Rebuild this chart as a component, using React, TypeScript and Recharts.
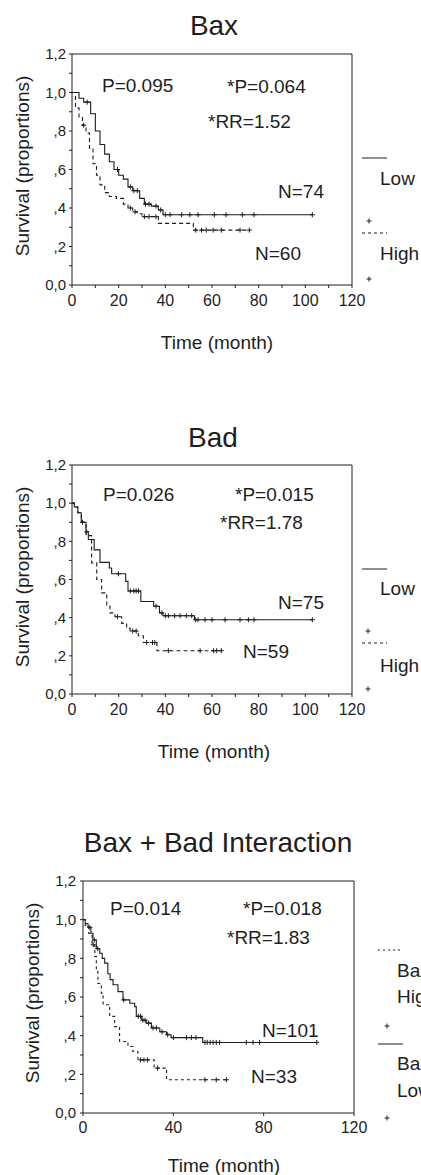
import React from 'react'
import { LineChart, Line, XAxis, YAxis, ReferenceLine } from 'recharts'

const FONT = '"Liberation Sans", Arial, Helvetica, sans-serif'
const INK = '#1e1e1e'

// Bax panel
const baxLowT = [0, 3, 5, 8, 10, 12, 14, 16, 18, 20, 22, 24, 26, 29, 31, 34, 37, 39]
const baxLowS = [1.0, 0.97, 0.95, 0.89, 0.8, 0.73, 0.68, 0.64, 0.6, 0.57, 0.55, 0.51, 0.49, 0.45, 0.42, 0.41, 0.39, 0.365]
const baxLowCens = [6.5, 19.5, 25, 26.5, 28, 31.5, 33, 36, 38, 40, 42, 47, 50.5, 54, 61, 66, 73, 78, 103]
const baxHighT = [0, 1.5, 3, 4.5, 6, 7.5, 9, 10.5, 12, 14, 16, 19, 22, 24, 26, 28, 30, 37, 52]
const baxHighS = [1.0, 0.92, 0.87, 0.83, 0.79, 0.71, 0.63, 0.57, 0.52, 0.48, 0.46, 0.45, 0.42, 0.4, 0.38, 0.37, 0.355, 0.32, 0.285]
const baxHighCens = [5, 25, 27, 31, 33, 36, 53, 55.5, 57.5, 60.5, 64, 72, 76]

// Bad panel
const badLowT = [0, 1, 2.5, 4, 6, 7, 9.5, 12, 16, 17, 23, 24, 29.5, 35, 37.5, 39, 52.5]
const badLowS = [1.0, 0.98, 0.95, 0.9, 0.85, 0.81, 0.755, 0.69, 0.66, 0.63, 0.59, 0.54, 0.485, 0.46, 0.425, 0.41, 0.389]
const badLowCens = [4.5, 6.3, 19.9, 25, 26.5, 27.5, 28.5, 36, 38.5, 40, 41.3, 44, 46.3, 49, 51.3, 53, 54, 57, 60, 65.6, 72, 75.6, 78, 103]
const badHighT = [0, 1, 2.5, 4, 6, 8.4, 10.6, 12.7, 14.9, 16.3, 18.4, 21.3, 23.4, 24.9, 28.4, 30.6, 36.4]
const badHighS = [1.0, 0.98, 0.95, 0.9, 0.83, 0.687, 0.6, 0.53, 0.46, 0.425, 0.405, 0.37, 0.345, 0.33, 0.305, 0.27, 0.227]
const badHighCens = [19.5, 26, 27.5, 32, 34.5, 35.5, 41.3, 54.9, 60.6, 62, 64]

// Bax + Bad interaction panel
const intLowT = [0, 1, 2.2, 3.5, 4.4, 5.9, 7.4, 8.5, 9.6, 11, 12, 13.3, 15.5, 17.7, 20.7, 22.9, 23.6, 26, 28, 30.3, 34, 37, 39, 53]
const intLowS = [1.0, 0.98, 0.96, 0.93, 0.895, 0.85, 0.826, 0.8, 0.775, 0.72, 0.69, 0.663, 0.628, 0.585, 0.568, 0.55, 0.5, 0.48, 0.465, 0.44, 0.42, 0.405, 0.39, 0.365]
const intLowCens = [3, 5, 6.5, 18, 24.5, 25.5, 26.5, 27.5, 29, 31, 32.5, 35, 37.5, 40, 45.8, 48, 50, 54, 55, 56.3, 57.6, 59, 60.5, 72.3, 75.3, 78.2, 103.5]
const intHighT = [0, 1, 2.5, 4, 5.2, 5.9, 6.6, 8.1, 8.9, 11.8, 14, 16.2, 19.9, 22.1, 24.3, 31.5, 37]
const intHighS = [1.0, 0.97, 0.93, 0.87, 0.81, 0.74, 0.67, 0.62, 0.56, 0.5, 0.447, 0.37, 0.344, 0.318, 0.275, 0.232, 0.172]
const intHighCens = [4.5, 25.5, 27, 28.5, 33, 54, 59, 63.5]

const yTicks = [0, 0.1, 0.2, 0.3, 0.4, 0.5, 0.6, 0.7, 0.8, 0.9, 1.0, 1.1, 1.2]
const xTicksFine = [0, 10, 20, 30, 40, 50, 60, 70, 80, 90, 100, 110, 120]
const xLabelsFine = [0, 20, 40, 60, 80, 100, 120]
const xTicksCoarse = [0, 40, 80, 120]

type Pt = { t: number; s: number; c: boolean }

function buildKM(times: number[], surv: number[], cens: number[]): Pt[] {
  const pts: Pt[] = times.map((t, i) => ({ t, s: surv[i], c: false }))
  cens.forEach((ct) => {
    let s = surv[0]
    times.forEach((t, i) => {
      if (t <= ct) s = surv[i]
    })
    pts.push({ t: ct, s, c: true })
  })
  pts.sort((a, b) => a.t - b.t || Number(a.c) - Number(b.c))
  return pts
}

const yFmt = (v: number) => {
  const k = Math.round(v * 10)
  if (k % 2) return ''
  if (k === 0) return '0,0'
  if (k === 10) return '1,0'
  if (k === 12) return '1,2'
  return ',' + k
}

const censorDot = (props: any) => {
  const { cx, cy, payload, index } = props
  if (!payload || !payload.c) return <g key={`n${index}`} />
  return (
    <path
      key={`c${index}`}
      d={`M${cx - 2.5},${cy}h5M${cx},${cy - 2.5}v5`}
      stroke={INK}
      strokeWidth={1}
      strokeDasharray="none"
      fill="none"
    />
  )
}

interface PanelProps {
  top: number
  height: number
  left: number
  right: number
  xTicks: number[]
  xLabels: number[]
  xTickMargin: number
  yTickMargin: number
  low: Pt[]
  high: Pt[]
  dash: string
}

function KMPanel(p: PanelProps) {
  return (
    <div style={{ position: 'absolute', left: 0, top: p.top }}>
      <LineChart
        width={421}
        height={p.height}
        margin={{ top: 10, right: p.right, bottom: 20, left: p.left }}
      >
        <XAxis
          type="number"
          dataKey="t"
          domain={[0, 120]}
          ticks={p.xTicks}
          interval={0}
          allowDuplicatedCategory={false}
          tickFormatter={(v: number) => (p.xLabels.includes(v) ? String(v) : '')}
          tick={{ fill: INK, fontSize: 16, fontFamily: FONT }}
          tickSize={3}
          tickMargin={p.xTickMargin}
          axisLine={{ stroke: INK }}
          tickLine={{ stroke: INK }}
          height={20}
        />
        <YAxis
          type="number"
          domain={[0, 1.2]}
          ticks={yTicks}
          interval={0}
          tickFormatter={yFmt}
          tick={{ fill: INK, fontSize: 15, fontFamily: FONT }}
          tickSize={3}
          tickMargin={p.yTickMargin}
          axisLine={{ stroke: INK }}
          tickLine={{ stroke: INK }}
          width={30}
        />
        <ReferenceLine y={1.2} stroke={INK} />
        <ReferenceLine x={120} stroke={INK} />
        <Line
          data={p.low}
          dataKey="s"
          type="stepAfter"
          stroke={INK}
          strokeWidth={1.1}
          dot={censorDot}
          activeDot={false}
          isAnimationActive={false}
        />
        <Line
          data={p.high}
          dataKey="s"
          type="stepAfter"
          stroke={INK}
          strokeWidth={1.1}
          strokeDasharray={p.dash}
          dot={censorDot}
          activeDot={false}
          isAnimationActive={false}
        />
      </LineChart>
    </div>
  )
}

const Plus = ({ x, y }: { x: number; y: number }) => (
  <path d={`M${x - 2.5},${y}h5M${x},${y - 2.5}v5`} stroke={INK} strokeWidth={1} />
)

export default function App() {
  const t19 = { fontSize: 19, fontFamily: FONT, fill: INK }
  const t28 = { fontSize: 28, fontFamily: FONT, fill: INK }
  return (
    <div style={{ position: 'absolute', left: 0, top: 0, width: 421, height: 1175, background: '#fff', overflow: 'hidden' }}>
      <KMPanel
        top={44}
        height={281}
        left={42}
        right={69}
        xTicks={xTicksFine}
        xLabels={xLabelsFine}
        xTickMargin={7}
        yTickMargin={3}
        low={buildKM(baxLowT, baxLowS, baxLowCens)}
        high={buildKM(baxHighT, baxHighS, baxHighCens)}
        dash="4 3"
      />
      <KMPanel
        top={455}
        height={279}
        left={42}
        right={69}
        xTicks={xTicksFine}
        xLabels={xLabelsFine}
        xTickMargin={7}
        yTickMargin={3}
        low={buildKM(badLowT, badLowS, badLowCens)}
        high={buildKM(badHighT, badHighS, badHighCens)}
        dash="4 3"
      />
      <KMPanel
        top={871}
        height={282}
        left={53}
        right={67}
        xTicks={xTicksCoarse}
        xLabels={xTicksCoarse}
        xTickMargin={6}
        yTickMargin={4}
        low={buildKM(intLowT, intLowS, intLowCens)}
        high={buildKM(intHighT, intHighS, intHighCens)}
        dash="3 3"
      />
      <svg width={421} height={1175} style={{ position: 'absolute', left: 0, top: 0, pointerEvents: 'none' }}>
        {/* Bax */}
        <text x={214} y={35} textAnchor="middle" style={t28}>Bax</text>
        <text transform="translate(22,166) rotate(-90)" textAnchor="middle" dominantBaseline="central" style={t19}>Survival (proportions)</text>
        <text x={102} y={92} style={t19}>P=0.095</text>
        <text x={227} y={93} style={t19}>*P=0.064</text>
        <text x={208} y={128} style={t19}>*RR=1.52</text>
        <text x={278} y={198} style={t19}>N=74</text>
        <text x={255} y={260} style={t19}>N=60</text>
        <text x={217} y={349} textAnchor="middle" style={t19}>Time (month)</text>
        <line x1={362} x2={387} y1={158} y2={158} stroke={INK} strokeWidth={1} />
        <text x={380} y={185} style={t19}>Low</text>
        <Plus x={369} y={221} />
        <line x1={362} x2={387} y1={233} y2={233} stroke={INK} strokeWidth={1} strokeDasharray="3 3" />
        <text x={380} y={260} style={t19}>High</text>
        <Plus x={369} y={279} />

        {/* Bad */}
        <text x={213} y={447} textAnchor="middle" style={t28}>Bad</text>
        <text transform="translate(22,577) rotate(-90)" textAnchor="middle" dominantBaseline="central" style={t19}>Survival (proportions)</text>
        <text x={103} y={501} style={t19}>P=0.026</text>
        <text x={235} y={501} style={t19}>*P=0.015</text>
        <text x={220} y={529} style={t19}>*RR=1.78</text>
        <text x={278} y={609} style={t19}>N=75</text>
        <text x={243} y={658} style={t19}>N=59</text>
        <text x={214} y={758} textAnchor="middle" style={t19}>Time (month)</text>
        <line x1={362} x2={387} y1={569} y2={569} stroke={INK} strokeWidth={1} />
        <text x={380} y={595} style={t19}>Low</text>
        <Plus x={368} y={631} />
        <line x1={362} x2={387} y1={643} y2={643} stroke={INK} strokeWidth={1} strokeDasharray="3 3" />
        <text x={380} y={672} style={t19}>High</text>
        <Plus x={368} y={689} />

        {/* Bax + Bad Interaction */}
        <text x={218} y={852} textAnchor="middle" style={t28}>Bax + Bad Interaction</text>
        <text transform="translate(32,993) rotate(-90)" textAnchor="middle" dominantBaseline="central" style={t19}>Survival (proportions)</text>
        <text x={110} y={915} style={t19}>P=0.014</text>
        <text x={243} y={915} style={t19}>*P=0.018</text>
        <text x={227} y={944} style={t19}>*RR=1.83</text>
        <text x={262} y={1037} style={t19}>N=101</text>
        <text x={251} y={1083} style={t19}>N=33</text>
        <text x={224} y={1172} textAnchor="middle" style={t19}>Time (month)</text>
        <line x1={378} x2={403} y1={950} y2={950} stroke={INK} strokeWidth={1} strokeDasharray="2 3" />
        <text x={397} y={977} style={t19}>Bax+Bad</text>
        <text x={397} y={1003} style={t19}>High</text>
        <Plus x={387} y={1026} />
        <line x1={378} x2={403} y1={1044} y2={1044} stroke={INK} strokeWidth={1} />
        <text x={397} y={1070} style={t19}>Bax+Bad</text>
        <text x={397} y={1097} style={t19}>Low</text>
        <Plus x={387} y={1118} />
      </svg>
    </div>
  )
}
